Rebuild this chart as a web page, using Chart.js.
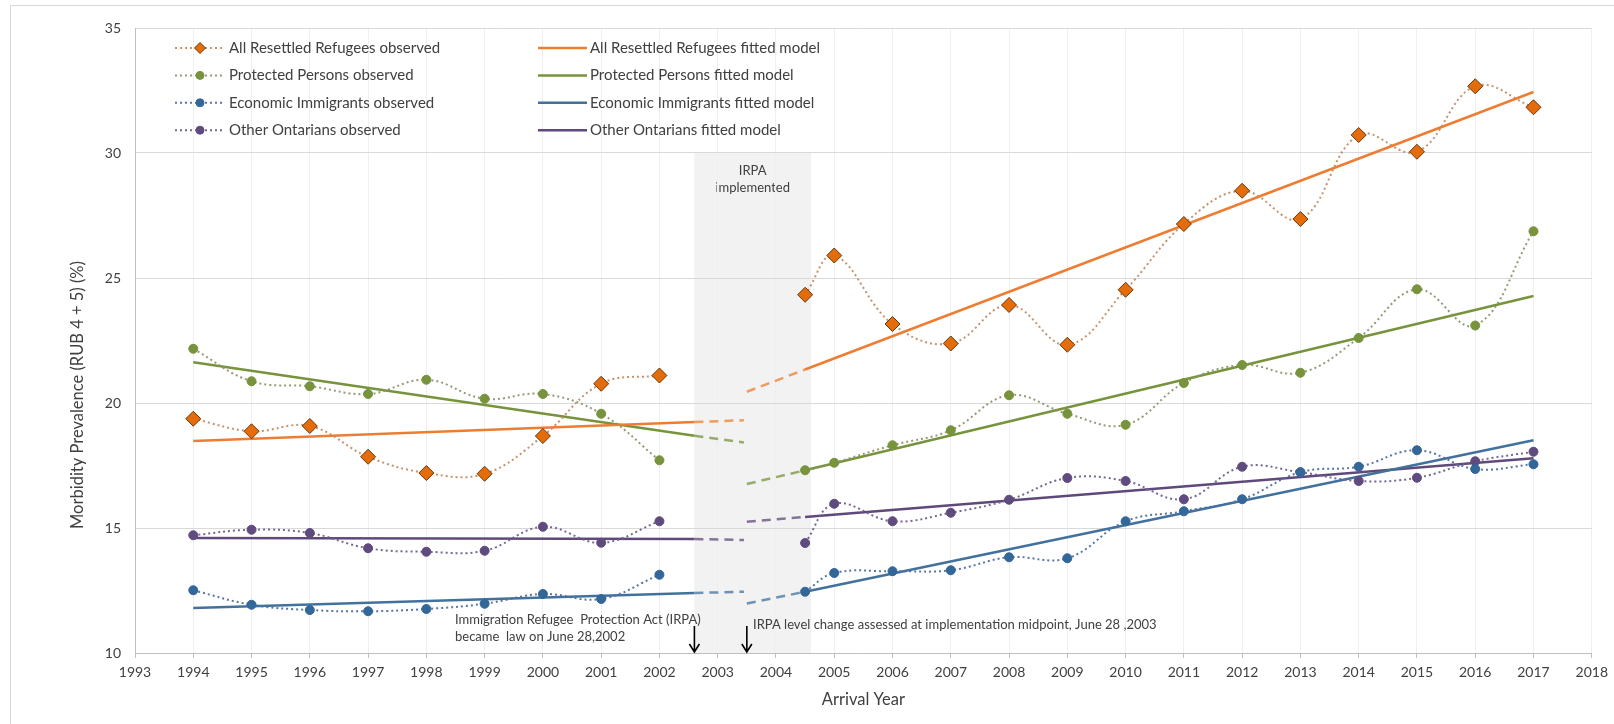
<!DOCTYPE html>
<html>
<head>
<meta charset="utf-8">
<script src="https://cdn.jsdelivr.net/npm/chart.js@4.4.1/dist/chart.umd.min.js"></script>
<style>
  html, body { margin: 0; padding: 0; background: #fff; }
</style>
</head>
<body>
<canvas id="chart" width="1614" height="724"></canvas>
<script>
// x positions of the observed points (the 2004 point sits at mid-year, after implementation)
const obsYearsPre = [1994, 1995, 1996, 1997, 1998, 1999, 2000, 2001, 2002];
const obsYearsPost = [2004.5, 2005, 2006, 2007, 2008, 2009, 2010, 2011, 2012, 2013, 2014, 2015, 2016, 2017];
const gapYear = 2003.5;

// observed morbidity prevalence (%)
const refugeesPre = [19.37, 18.87, 19.08, 17.85, 17.2, 17.17, 18.68, 20.77, 21.1];
const refugeesPost = [24.33, 25.9, 23.16, 22.38, 23.92, 22.33, 24.53, 27.16, 28.49, 27.36, 30.72, 30.05, 32.67, 31.83];
const protectedPre = [22.17, 20.87, 20.67, 20.36, 20.93, 20.17, 20.36, 19.57, 17.71];
const protectedPost = [17.31, 17.61, 18.31, 18.91, 20.31, 19.57, 19.13, 20.8, 21.52, 21.21, 22.6, 24.55, 23.1, 26.87];
const economicPre = [12.51, 11.93, 11.72, 11.67, 11.76, 11.97, 12.36, 12.16, 13.13];
const economicPost = [12.45, 13.2, 13.27, 13.31, 13.83, 13.79, 15.27, 15.67, 16.15, 17.23, 17.45, 18.11, 17.36, 17.55];
const ontariansPre = [14.71, 14.93, 14.8, 14.19, 14.05, 14.09, 15.05, 14.41, 15.27];
const ontariansPost = [14.4, 15.97, 15.27, 15.61, 16.13, 17.0, 16.88, 16.15, 17.45, 17.23, 16.88, 17.01, 17.67, 18.05];

// fitted model: pre segment (last piece dashed), post segment (first piece dashed)
const fitYearsPre = [1994, 2002.6, 2003.45];
const fitYearsPost = [2003.5, 2004.5, 2017];
const refugeesFitPre = [18.48, 19.24, 19.31];
const refugeesFitPost = [20.45, 21.34, 32.44];
const protectedFitPre = [21.63, 18.69, 18.42];
const protectedFitPost = [16.76, 17.31, 24.28];
const economicFitPre = [11.8, 12.4, 12.45];
const economicFitPost = [11.98, 12.45, 18.51];
const ontariansFitPre = [14.6, 14.56, 14.52];
const ontariansFitPost = [15.25, 15.44, 17.79];

// IRPA shading and markers
const bandStart = 2002.6, bandEnd = 2004.6, bandTop = 30;
const lawArrowYear = 2002.6, midpointArrowYear = 2003.5;

const FONT = 'Lato, "Open Sans", sans-serif';
const TEXT = '#404040';

const groups = [
    { name: 'All Resettled Refugees', pre: refugeesPre, post: refugeesPost, fitPre: refugeesFitPre, fitPost: refugeesFitPost,
      line: '#ED7D31', dot: 'rgba(196,140,100,0.95)', point: '#E46C0A', pointBorder: '#6a3608', style: 'rectRot', radius: 7.5 },
    { name: 'Protected Persons', pre: protectedPre, post: protectedPost, fitPre: protectedFitPre, fitPost: protectedFitPost,
      line: '#77933C', dot: 'rgba(140,150,110,0.95)', point: '#77933C', pointBorder: '#77933C', style: 'circle', radius: 4.5 },
    { name: 'Economic Immigrants', pre: economicPre, post: economicPost, fitPre: economicFitPre, fitPost: economicFitPost,
      line: '#41719C', dot: 'rgba(80,110,160,0.95)', point: '#336699', pointBorder: '#336699', style: 'circle', radius: 4.5 },
    { name: 'Other Ontarians', pre: ontariansPre, post: ontariansPost, fitPre: ontariansFitPre, fitPost: ontariansFitPost,
      line: '#5F497A', dot: 'rgba(110,95,140,0.95)', point: '#5F4B7E', pointBorder: '#5F4B7E', style: 'circle', radius: 4.5 }
];

function joinObs(pre, post) {
    const pts = pre.map((v, i) => ({ x: obsYearsPre[i], y: v }));
    pts.push({ x: gapYear, y: null });
    post.forEach((v, i) => pts.push({ x: obsYearsPost[i], y: v }));
    return pts;
}

function toPoints(years, values) {
    return values.map((v, i) => ({ x: years[i], y: v }));
}

function fade(hex, a) {
    const n = parseInt(hex.slice(1), 16);
    return `rgba(${(n >> 16) & 255},${(n >> 8) & 255},${n & 255},${a})`;
}

const datasets = [];
groups.forEach(g => {
    datasets.push({
        label: g.name + ' observed',
        data: joinObs(g.pre, g.post),
        borderColor: g.dot,
        borderWidth: 2,
        borderDash: [2, 3],
        tension: 0.4,
        spanGaps: false,
        pointStyle: g.style,
        pointRadius: g.radius,
        pointBackgroundColor: g.point,
        pointBorderColor: g.pointBorder,
        pointBorderWidth: 1
    });
});
groups.forEach(g => {
    datasets.push({
        label: g.name + ' fitted model',
        data: toPoints(fitYearsPre, g.fitPre),
        borderColor: g.line,
        borderWidth: 2.5,
        pointRadius: 0,
        tension: 0,
        segment: {
            borderDash: ctx => ctx.p0DataIndex === 1 ? [9, 6] : undefined,
            borderColor: ctx => ctx.p0DataIndex === 1 ? fade(g.line, 0.75) : g.line
        }
    });
    datasets.push({
        label: g.name + ' fitted model (post)',
        data: toPoints(fitYearsPost, g.fitPost),
        borderColor: g.line,
        borderWidth: 2.5,
        pointRadius: 0,
        tension: 0,
        segment: {
            borderDash: ctx => ctx.p0DataIndex === 0 ? [9, 6] : undefined,
            borderColor: ctx => ctx.p0DataIndex === 0 ? fade(g.line, 0.75) : g.line
        }
    });
});

// frame + shaded IRPA period, drawn under the grid
const backdrop = {
    id: 'backdrop',
    beforeDraw(chart) {
        const { ctx, scales: { x, y } } = chart;
        ctx.save();
        ctx.strokeStyle = '#d9d9d9';
        ctx.lineWidth = 1;
        ctx.strokeRect(10.5, 5.5, chart.width + 10, chart.height + 10);
        const x0 = x.getPixelForValue(bandStart), x1 = x.getPixelForValue(bandEnd);
        const y0 = y.getPixelForValue(bandTop), y1 = y.getPixelForValue(10);
        ctx.fillStyle = '#f2f2f2';
        ctx.fillRect(x0, y0, x1 - x0, y1 - y0);
        ctx.fillStyle = TEXT;
        ctx.font = '13px ' + FONT;
        ctx.textAlign = 'center';
        ctx.textBaseline = 'middle';
        const cx = (x0 + x1) / 2;
        ctx.fillText('IRPA', cx, y0 + 18);
        ctx.fillText('implemented', cx, y0 + 35);
        ctx.restore();
    }
};

// legend (two columns), y-axis title and the IRPA arrows/notes
const overlay = {
    id: 'overlay',
    afterDraw(chart) {
        const { ctx, scales: { x, y } } = chart;
        ctx.save();
        ctx.font = '15px ' + FONT;
        ctx.textBaseline = 'middle';
        ctx.textAlign = 'left';
        groups.forEach((g, i) => {
            const ry = 48 + i * 27.4;
            // observed
            ctx.strokeStyle = g.dot;
            ctx.lineWidth = 2;
            ctx.setLineDash([2, 3]);
            ctx.beginPath();
            ctx.moveTo(175, ry);
            ctx.lineTo(224, ry);
            ctx.stroke();
            ctx.setLineDash([]);
            ctx.fillStyle = g.point;
            ctx.strokeStyle = g.pointBorder;
            ctx.lineWidth = 1;
            Chart.helpers.drawPoint(ctx, { pointStyle: g.style, radius: g.style === 'rectRot' ? 5.5 : 4, borderWidth: 1 }, 200, ry);
            ctx.fillStyle = TEXT;
            ctx.fillText(g.name + ' observed', 229, ry);
            // fitted
            ctx.strokeStyle = g.line;
            ctx.lineWidth = 2.5;
            ctx.beginPath();
            ctx.moveTo(538, ry);
            ctx.lineTo(587, ry);
            ctx.stroke();
            ctx.fillStyle = TEXT;
            ctx.fillText(g.name + ' fitted model', 590, ry);
        });

        // y-axis title (sits a little below the plot's middle, as in the source)
        ctx.save();
        ctx.translate(78, 395);
        ctx.rotate(-Math.PI / 2);
        ctx.textAlign = 'center';
        ctx.font = '16.5px ' + FONT;
        ctx.fillText('Morbidity Prevalence (RUB 4 + 5) (%)', 0, 0);
        ctx.restore();

        const base = y.getPixelForValue(10);
        ctx.font = '13px ' + FONT;
        ctx.fillStyle = TEXT;
        ctx.fillText('Immigration Refugee  Protection Act (IRPA)', 455, 620);
        ctx.fillText('became  law on June 28,2002', 455, 637);
        ctx.fillText('IRPA level change assessed at implementation midpoint, June 28 ,2003', 753, 625);

        ctx.strokeStyle = '#000';
        ctx.lineWidth = 1.6;
        [lawArrowYear, midpointArrowYear].forEach(yr => {
            const ax = x.getPixelForValue(yr);
            ctx.beginPath();
            ctx.moveTo(ax, base - 27);
            ctx.lineTo(ax, base - 1);
            ctx.moveTo(ax - 5, base - 9);
            ctx.lineTo(ax, base - 1);
            ctx.lineTo(ax + 5, base - 9);
            ctx.stroke();
        });
        ctx.restore();
    }
};

new Chart(document.getElementById('chart').getContext('2d'), {
    type: 'line',
    data: { datasets: datasets },
    options: {
        responsive: false,
        animation: false,
        devicePixelRatio: 1,
        layout: { padding: { left: 68, right: 18, top: 28, bottom: 14 } },
        plugins: { legend: { display: false }, tooltip: { enabled: false } },
        scales: {
            x: {
                type: 'linear',
                min: 1993,
                max: 2018,
                ticks: { stepSize: 1, autoSkip: false, maxRotation: 0, padding: 6, color: TEXT, font: { family: FONT, size: 14 }, callback: v => String(v) },
                grid: { color: '#efefef', tickColor: '#bfbfbf', tickLength: 5 },
                border: { color: '#bfbfbf' },
                title: { display: true, text: 'Arrival Year', color: TEXT, font: { family: FONT, size: 16.5 }, padding: 0 },
                afterFit: s => { s.height = 57; }
            },
            y: {
                min: 10,
                max: 35,
                ticks: { stepSize: 5, padding: 14, color: TEXT, font: { family: FONT, size: 14 } },
                grid: { color: '#d9d9d9', drawTicks: false },
                border: { color: '#bfbfbf' },
                afterFit: s => { s.width = 67; }
            }
        }
    },
    plugins: [backdrop, overlay]
});
</script>
</body>
</html>
